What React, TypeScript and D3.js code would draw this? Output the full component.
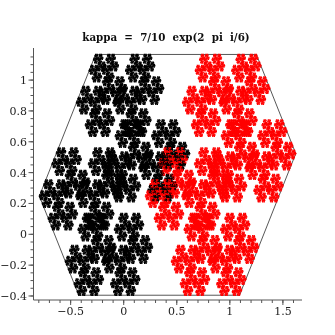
import React from "react";
import * as d3 from "d3";

const width = 335;
const height = 335;

// generator read from the title: kappa = 7/10 exp(2 pi i/6)
const kappaModulus = [7, 10];
const kappaTurn = [1, 6];
const digits = [0, 1];
const depth = 14;
const digitColors = ["#000000", "#ff0000"];
// colours are laid down in turns, split on the finest digits, so the overlap speckles
const layers = d3.range(32);

const xDomain = [-0.85, 1.68];
const yDomain = [-0.426, 1.208];
const xTicks = [-0.5, 0, 0.5, 1, 1.5];
const yTicks = [-0.4, -0.2, 0, 0.2, 0.4, 0.6, 0.8, 1];
const xTickLabels = ["\u22120.5", "0", "0.5", "1", "1.5"];
const yTickLabels = ["\u22120.4", "\u22120.2", "0", "0.2", "0.4", "0.6", "0.8", "1"];
const xMinor = d3.range(-8, 17).map(d => d / 10);
const yMinor = d3.range(-8, 24).map(d => d / 20);

const x = d3.scaleLinear().domain(xDomain).range([33.5, 302]);
const y = d3.scaleLinear().domain(yDomain).range([300, 48]);

const r = kappaModulus[0] / kappaModulus[1];
const ang = 2 * Math.PI * kappaTurn[0] / kappaTurn[1];
const kRe = r * Math.cos(ang);
const kIm = r * Math.sin(ang);

// every sum a0 + a1 k + a2 k^2 + ...  with a in digits, first digit picks the colour
function expand(first: number): [number, number][] {
  let pts: [number, number][] = [[0, 0]];
  for (let i = 0; i < depth; i++) {
    const next: [number, number][] = [];
    for (const p of pts) {
      for (const a of digits) {
        next.push([a + kRe * p[0] - kIm * p[1], kRe * p[1] + kIm * p[0]]);
      }
    }
    pts = next;
  }
  return pts.map(p => [first + kRe * p[0] - kIm * p[1], kRe * p[1] + kIm * p[0]]);
}

const sets = digits.map(expand);
const hull = d3.polygonHull(sets.flat()) as [number, number][];

function dots(pts: [number, number][], layer: number) {
  const size = pts.length / layers.length;
  return pts
    .filter((_, i) => Math.floor(i / size) === layer)
    .map(p => `M${x(p[0]).toFixed(1)} ${y(p[1]).toFixed(1)}m-.7 -.7h1.4v1.4h-1.4z`)
    .join("");
}

export default function App() {
  const font = { fontFamily: "'DejaVu Serif', serif", fontSize: 11, fill: "#222" };
  const line = d3.line().x(d => x(d[0])).y(d => y(d[1])).curve(d3.curveLinearClosed);
  return (
    <svg width={width} height={height} style={{ position: "absolute", left: 0, top: 0 }}>
      <defs>
        <filter id="soft" x="0" y="0" width="1" height="1">
          <feGaussianBlur stdDeviation="0.3" />
        </filter>
      </defs>
      <g filter="url(#soft)">
        <rect width={width} height={height} fill="#fff" />
        <text x={166} y={41} textAnchor="middle" fontFamily="'DejaVu Serif', serif" fontSize={10.3} fontWeight="bold" fill="#111" style={{ whiteSpace: "pre" }}>
          {"kappa  =  7/10  exp(2  pi  i/6)"}
        </text>
        <path d={line(hull) ?? ""} fill="none" stroke="#444" strokeWidth={0.9} />
        {layers.map(layer => (
          <g key={layer}>
            <path d={dots(sets[1], layer)} fill={digitColors[1]} />
            <path d={dots(sets[0], layer)} fill={digitColors[0]} />
          </g>
        ))}
        <g stroke="#555" strokeWidth={1} fill="none">
          <line x1={33.5} x2={302} y1={300} y2={300} />
          <line x1={33.5} x2={33.5} y1={48} y2={300} />
          {xMinor.map(d => <line key={d} x1={x(d)} x2={x(d)} y1={300} y2={303} />)}
          {yMinor.map(d => <line key={d} x1={33.5} x2={30.5} y1={y(d)} y2={y(d)} />)}
          {xTicks.map(d => <line key={d} x1={x(d)} x2={x(d)} y1={300} y2={305} />)}
          {yTicks.map(d => <line key={d} x1={33.5} x2={28.5} y1={y(d)} y2={y(d)} />)}
        </g>
        {xTicks.map((d, i) => (
          <text key={d} x={x(d)} y={315} textAnchor="middle" {...font}>{xTickLabels[i]}</text>
        ))}
        {yTicks.map((d, i) => (
          <text key={d} x={27} y={y(d) + 4} textAnchor="end" {...font}>{yTickLabels[i]}</text>
        ))}
      </g>
    </svg>
  );
}
